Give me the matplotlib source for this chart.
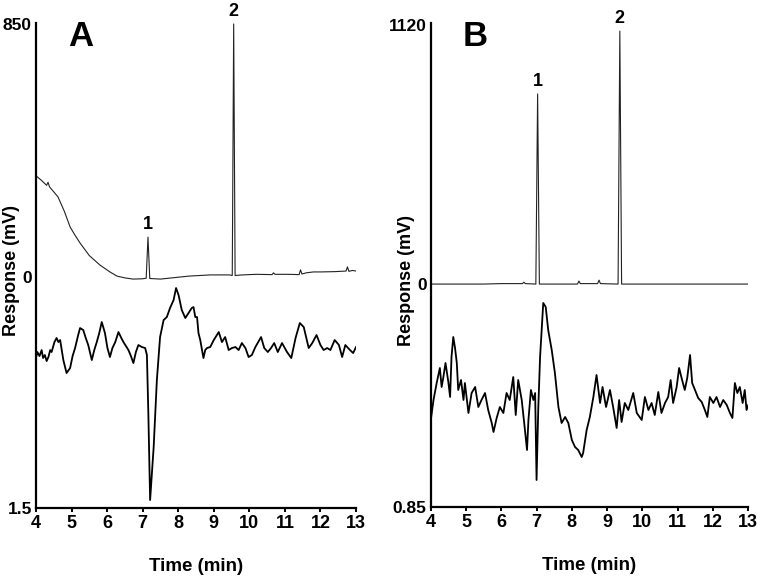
import matplotlib.pyplot as plt

plt.rcParams['font.family'] = ['Liberation Sans', 'DejaVu Sans']
plt.rcParams['font.weight'] = 'bold'

# ---- panel A ----
# upper trace, mV
a_uv_time = [4.00, 4.15, 4.30, 4.34, 4.38, 4.62, 4.80, 4.96, 5.10, 5.24, 5.50, 5.80, 6.08, 6.28,
             6.50, 6.73, 7.00, 7.10, 7.15, 7.20, 7.50, 7.90, 8.30, 8.90, 9.45, 9.52, 9.56, 9.60,
             9.80, 10.20, 10.64, 10.68, 10.72, 11.10, 11.40, 11.44, 11.48, 11.60, 11.80, 12.00,
             12.40, 12.72, 12.76, 12.80, 12.90, 13.00]
a_uv_mv = [340, 325, 308, 318, 303, 269, 220, 168, 140, 114, 72, 40, 17, 3,
           -3, -7, -6, -4, 134, -5, -7, -2, 3, 7, 7, 5, 850, 5,
           7, 9, 8, 14, 9, 9, 8, 24, 10, 14, 17, 17,
           18, 20, 34, 19, 22, 20]
# lower trace, relative units (0 = bottom of axis)
a_low_time = [4.00, 4.04, 4.10, 4.16, 4.20, 4.25, 4.30, 4.35, 4.40, 4.44, 4.52, 4.58, 4.63, 4.68,
              4.77, 4.86, 4.96, 5.03, 5.10, 5.18, 5.24, 5.33, 5.40, 5.47, 5.57, 5.64, 5.71, 5.78,
              5.85, 5.94, 6.01, 6.08, 6.15, 6.23, 6.32, 6.40, 6.46, 6.53, 6.60, 6.67, 6.74, 6.81,
              6.88, 6.98, 7.07, 7.12, 7.16, 7.21, 7.31, 7.40, 7.49, 7.59, 7.68, 7.77, 7.87, 7.94,
              8.01, 8.10, 8.20, 8.29, 8.38, 8.43, 8.48, 8.53, 8.57, 8.62, 8.71, 8.76, 8.81, 8.90,
              9.00, 9.07, 9.14, 9.23, 9.32, 9.42, 9.51, 9.61, 9.70, 9.79, 9.89, 9.98, 10.07, 10.17,
              10.25, 10.33, 10.42, 10.52, 10.61, 10.70, 10.80, 10.92, 11.06, 11.18, 11.30, 11.42,
              11.53, 11.67, 11.77, 11.89, 12.00, 12.09, 12.19, 12.28, 12.40, 12.52, 12.61, 12.70,
              12.83, 12.92, 13.00]
a_low_val = [150, 156, 152, 158, 150, 153, 147, 151, 158, 156, 166, 170, 166, 168,
             148, 135, 140, 152, 160, 172, 180, 178, 170, 163, 148, 158, 166, 175,
             186, 175, 160, 151, 160, 166, 176, 170, 166, 162, 158, 152, 145, 156,
             163, 161, 160, 153, 95, 8, 61, 128, 171, 188, 191, 200, 208, 220,
             213, 198, 190, 195, 200, 201, 191, 191, 175, 168, 150, 158, 160, 161,
             168, 172, 176, 166, 171, 158, 160, 161, 158, 165, 160, 151, 153, 161,
             166, 171, 160, 156, 160, 165, 156, 165, 156, 150, 170, 185,
             181, 160, 165, 173, 163, 158, 160, 158, 168, 163, 151, 163,
             158, 155, 161]
a_peak_time = [7.15, 9.56]
a_peak_mv = [134, 850]

# ---- panel B ----
b_uv_time = [4.00, 5.50, 6.00, 6.60, 6.64, 6.68, 6.98, 7.03, 7.08, 8.16, 8.20, 8.24,
             8.73, 8.77, 8.81, 9.31, 9.36, 9.41, 10.50, 13.00]
b_uv_mv = [0, 0, 2, 2, 8, 2, 0, 822, 0, 0, 13, 2,
           2, 17, 2, 0, 1094, 0, 0, 0]
b_low_time = [4.00, 4.03, 4.08, 4.17, 4.26, 4.31, 4.36, 4.42, 4.50, 4.55, 4.59, 4.64, 4.69,
              4.74, 4.78, 4.86, 4.93, 4.97, 5.07, 5.16, 5.26, 5.35, 5.44, 5.54, 5.63, 5.73,
              5.78, 5.87, 5.96, 6.06, 6.15, 6.24, 6.34, 6.41, 6.48, 6.58, 6.65, 6.73, 6.77,
              6.84, 6.91, 6.96, 7.00, 7.05, 7.10, 7.19, 7.26, 7.33, 7.43, 7.52, 7.62, 7.71,
              7.81, 7.90, 8.00, 8.09, 8.18, 8.28, 8.32, 8.42, 8.51, 8.61, 8.70, 8.80, 8.87,
              8.97, 9.08, 9.17, 9.27, 9.34, 9.41, 9.50, 9.60, 9.74, 9.84, 9.98, 10.07, 10.17,
              10.26, 10.35, 10.45, 10.54, 10.64, 10.73, 10.80, 10.87, 10.97, 11.04, 11.11,
              11.20, 11.27, 11.35, 11.41, 11.49, 11.58, 11.68, 11.77, 11.84, 11.91, 12.01,
              12.10, 12.20, 12.29, 12.39, 12.48, 12.55, 12.62, 12.69, 12.76, 12.84, 12.90,
              12.95, 13.00]
b_low_val = [85, 93, 106, 123, 138, 119, 129, 143, 124, 109, 149, 169, 158,
             143, 116, 126, 106, 123, 93, 113, 119, 99, 106, 113, 96, 83,
             74, 88, 99, 93, 113, 106, 129, 91, 126, 106, 83, 56, 86,
             116, 106, 113, 26, 99, 149, 203, 199, 176, 156, 133, 99, 83,
             89, 83, 66, 59, 56, 49, 53, 76, 89, 109, 131, 103, 119,
             99, 116, 99, 78, 106, 84, 103, 96, 113, 93, 86, 109, 96,
             103, 91, 114, 93, 103, 109, 126, 103, 119, 138, 128,
             116, 128, 151, 123, 116, 108, 104, 96, 89, 109, 103,
             109, 99, 106, 101, 93, 88, 123, 113, 119, 103, 116,
             96, 101]
b_peak_time = [7.03, 9.36]
b_peak_mv = [822, 1094]

peak_labels = ['1', '2']
time_ticks = list(range(4, 14))


def draw_panel(rect, uv_t, uv_mv, low_t, low_v, ylim, low_lim, yticks, ylabels,
               peak_t, peak_mv, letter, ylab_xy):
    ax = fig.add_axes(rect)
    ax2 = ax.twinx()
    ax.plot(uv_t, uv_mv, color='#222222', lw=0.8)
    ax2.plot(low_t, low_v, color='black', lw=1.3)
    ax.set_xlim(4, 13)
    ax.set_ylim(*ylim)
    ax2.set_ylim(*low_lim)
    ax2.axis('off')

    for s in ['top', 'right']:
        ax.spines[s].set_visible(False)
    for s in ['left', 'bottom']:
        ax.spines[s].set_linewidth(1.6)

    ax.set_xticks(time_ticks)
    ax.tick_params(axis='x', length=3, width=1.4, pad=2, labelsize=13)
    ax.set_yticks(yticks, ylabels)
    ax.tick_params(axis='y', length=0, pad=3, labelsize=12.5)

    ax.set_xlabel('Time (min)', fontsize=13.5, fontweight='bold', labelpad=19)
    ax.set_ylabel('Response (mV)', fontsize=13, fontweight='bold')
    ax.yaxis.set_label_coords(*ylab_xy)

    for t, h, lab in zip(peak_t, peak_mv, peak_labels):
        ax.annotate(lab, (t, h), xytext=(0, 3), textcoords='offset points',
                    ha='center', va='bottom', fontsize=13, fontweight='bold',
                    annotation_clip=False)

    ax.text(0.14, 0.972, letter, transform=ax.transAxes, fontsize=25,
            fontweight='bold', ha='center', va='center')
    return ax


fig = plt.figure(figsize=(7.62, 5.76), dpi=100)

draw_panel([0.0472, 0.118, 0.42, 0.842], a_uv_time, a_uv_mv, a_low_time, a_low_val,
           (-776, 853), (0, 485), [-776, 0, 850], ['1.5', '0', '850'],
           a_peak_time, a_peak_mv, 'A', (-0.05, 0.49))
draw_panel([0.5652, 0.1198, 0.4168, 0.8403], b_uv_time, b_uv_mv, b_low_time, b_low_val,
           (-964, 1129), (-1, 483), [-964, 0, 1120], ['0.85', '0', '1120'],
           b_peak_time, b_peak_mv, 'B', (-0.05, 0.467))

fig.savefig('out.png', dpi=100)
